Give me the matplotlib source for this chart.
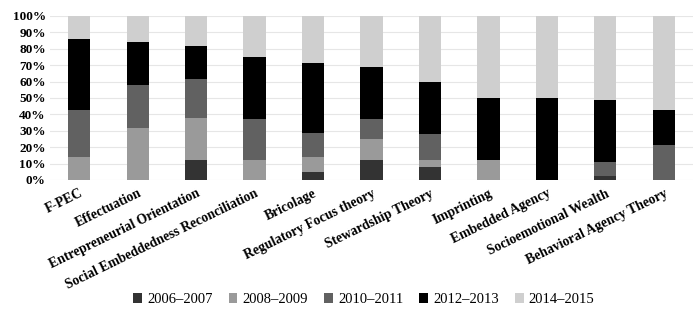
import matplotlib.pyplot as plt
import numpy as np

# Categories and shares (%) per period
categories = ["F-PEC", "Effectuation", "Entrepreneurial Orientation",
              "Social Embeddedness Reconciliation", "Bricolage",
              "Regulatory Focus theory", "Stewardship Theory", "Imprinting",
              "Embedded Agency", "Socioemotional Wealth", "Behavioral Agency Theory"]
periods = ["2006\u20132007", "2008\u20132009", "2010\u20132011", "2012\u20132013", "2014\u20132015"]

p2006 = [0, 0, 12.2, 0, 4.8, 12.5, 8, 0, 0, 2.4, 0]
p2008 = [14.3, 31.6, 25.6, 12.5, 9.5, 12.5, 4, 12.5, 0, 0, 0]
p2010 = [28.6, 26.3, 23.8, 25.0, 14.3, 12.5, 16, 0, 0, 8.5, 21.4]
p2012 = [42.9, 26.3, 19.9, 37.5, 42.9, 31.25, 32, 37.5, 50, 37.8, 21.4]
p2014 = [14.2, 15.8, 18.5, 25.0, 28.5, 31.25, 40, 50, 50, 51.3, 57.2]

colors = ["#333333", "#9a9a9a", "#616161", "#000000", "#cfcfcf"]

plt.rcParams['font.family'] = ['Liberation Serif', 'DejaVu Serif']

fig = plt.figure(figsize=(7, 3.13), dpi=100)
ax = fig.add_axes([50 / 700, 1 - 180 / 313, 643 / 700, 164 / 313])

x = np.arange(len(categories))
bottom = np.zeros(len(categories))
for vals, lab, col in zip([p2006, p2008, p2010, p2012, p2014], periods, colors):
    ax.bar(x, vals, bottom=bottom, width=0.38, color=col, label=lab, zorder=3)
    bottom += np.array(vals)

ax.set_xlim(-0.5, len(categories) - 0.5)
ax.set_ylim(0, 100)
ax.set_yticks(np.arange(0, 101, 10))
ax.set_yticklabels([f"{v}%" for v in range(0, 101, 10)], fontsize=9.5, fontweight='bold')
ax.yaxis.grid(True, color='#e6e6e6', linewidth=0.8, zorder=0)
ax.set_xticks(x)
ax.set_xticklabels(categories, rotation=26, ha='right', rotation_mode='anchor',
                   fontsize=9.8, fontweight='bold')
ax.tick_params(axis='y', length=0, pad=3)
ax.tick_params(axis='x', length=0, pad=5)
for s in ax.spines.values():
    s.set_visible(False)

fig.legend(loc='lower center', bbox_to_anchor=(0.52, -0.02), ncol=5, frameon=False,
           fontsize=10.5, handlelength=0.6, handleheight=0.6, handletextpad=0.35,
           columnspacing=1.1)

fig.savefig("out.png", dpi=100)
